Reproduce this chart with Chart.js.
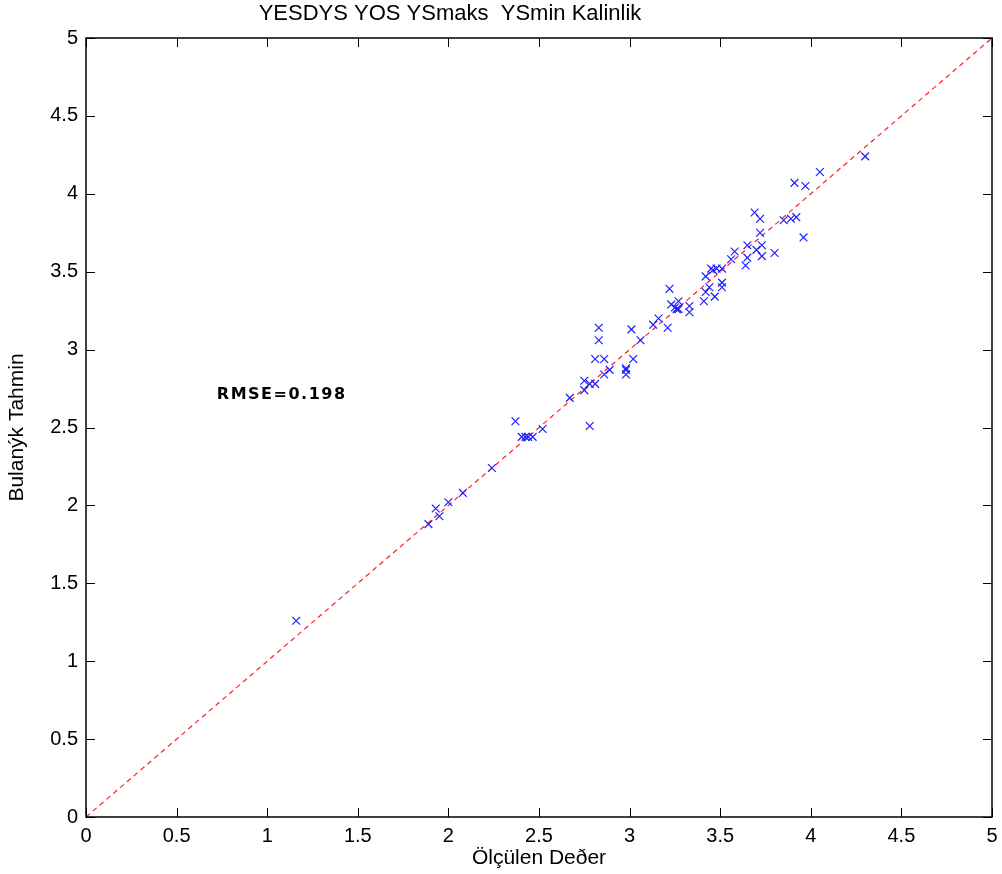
<!DOCTYPE html>
<html>
<head>
<meta charset="utf-8">
<script src="https://cdn.jsdelivr.net/npm/chart.js@4/dist/chart.umd.min.js"></script>
<style>
  html, body { margin: 0; padding: 0; background: #fff; }
  #wrap { width: 1002px; height: 874px; }
</style>
</head>
<body>
<div id="wrap"><canvas id="fit"></canvas></div>
<script>
// measured vs fuzzy predicted thickness
const measured = [
  1.16, 1.89, 1.93, 1.95, 2.00, 2.08, 2.24, 2.37, 2.405, 2.425, 2.44, 2.465,
  2.52, 2.78, 2.67, 2.75, 2.75, 2.78, 2.81, 2.86, 2.89, 2.81, 2.86, 2.83,
  2.83, 2.98, 2.98, 2.98, 3.02, 3.01, 3.06, 3.13, 3.16, 3.21, 3.22, 3.23,
  3.25, 3.26, 3.27, 3.27, 3.33, 3.33, 3.41, 3.42, 3.44, 3.47, 3.42, 3.45,
  3.46, 3.48, 3.51, 3.51, 3.51, 3.56, 3.58, 3.64, 3.65, 3.65, 3.70, 3.73,
  3.73, 3.72, 3.80, 3.69, 3.72, 3.85, 3.89, 3.92, 3.96, 3.91, 3.97, 4.05,
  4.30
];
const predicted = [
  1.26, 1.88, 1.98, 1.93, 2.02, 2.08, 2.24, 2.54, 2.44, 2.44, 2.44, 2.44,
  2.49, 2.51, 2.69, 2.80, 2.74, 2.78, 2.78, 2.84, 2.87, 2.94, 2.94, 3.06,
  3.14, 2.88, 2.87, 2.84, 2.94, 3.13, 3.06, 3.16, 3.20, 3.14, 3.39, 3.29,
  3.27, 3.26, 3.31, 3.26, 3.28, 3.24, 3.31, 3.37, 3.40, 3.34, 3.47, 3.52,
  3.51, 3.52, 3.52, 3.43, 3.40, 3.58, 3.63, 3.54, 3.59, 3.67, 3.64, 3.60,
  3.67, 3.75, 3.62, 3.88, 3.84, 3.83, 3.84, 3.85, 3.72, 4.07, 4.05, 4.14,
  4.24
];
const identityLine = [0, 5];
const axisTicks = [0, 0.5, 1, 1.5, 2, 2.5, 3, 3.5, 4, 4.5, 5];
const rmseText = 'RMSE=0.198';
const rmseAt = [1.08, 2.71];

const tickFont = { family: '"Liberation Sans", Arial, sans-serif', size: 20 };
const titleFont = { family: '"Liberation Sans", Arial, sans-serif', size: 21 };

// box around the axes with inward tick marks on every side, plus annotations
const frame = {
  id: 'frame',
  afterDraw(chart) {
    const { ctx, chartArea: a, scales: { x, y } } = chart;
    ctx.save();
    ctx.strokeStyle = '#000';
    ctx.lineWidth = 1.5;
    ctx.strokeRect(a.left, a.top, a.right - a.left, a.bottom - a.top);
    ctx.lineWidth = 1;
    ctx.beginPath();
    axisTicks.forEach(v => {
      const px = Math.round(x.getPixelForValue(v)) + 0.5;
      ctx.moveTo(px, a.bottom); ctx.lineTo(px, a.bottom - 9);
      ctx.moveTo(px, a.top); ctx.lineTo(px, a.top + 9);
      const py = Math.round(y.getPixelForValue(v)) + 0.5;
      ctx.moveTo(a.left, py); ctx.lineTo(a.left + 9, py);
      ctx.moveTo(a.right, py); ctx.lineTo(a.right - 9, py);
    });
    ctx.stroke();

    ctx.fillStyle = '#000';
    ctx.font = '22px "Liberation Sans", Arial, sans-serif';
    ctx.textAlign = 'center';
    ctx.textBaseline = 'middle';
    ctx.fillText('YESDYS YOS YSmaks  YSmin Kalinlik', 450, 14);

    ctx.font = 'bold 16px "DejaVu Sans", Verdana, sans-serif';
    ctx.letterSpacing = '1.5px';
    ctx.fillText(rmseText, x.getPixelForValue(rmseAt[0]), y.getPixelForValue(rmseAt[1]));
    ctx.restore();
  }
};

new Chart(document.getElementById('fit'), {
  type: 'scatter',
  data: {
    datasets: [
      {
        label: 'Tahmin',
        data: measured.map((m, i) => ({ x: m, y: predicted[i] })),
        pointStyle: 'crossRot',
        pointRadius: 5.5,
        pointHoverRadius: 5.5,
        borderColor: '#1f1fff',
        backgroundColor: '#1f1fff',
        pointBorderWidth: 1.2
      },
      {
        type: 'line',
        label: 'y = x',
        data: identityLine.map(v => ({ x: v, y: v })),
        borderColor: '#ff2020',
        borderWidth: 1.2,
        borderDash: [5, 4],
        pointRadius: 0,
        fill: false
      }
    ]
  },
  options: {
    responsive: true,
    maintainAspectRatio: false,
    animation: false,
    layout: { padding: { top: 38, right: 10, left: 0, bottom: 0 } },
    plugins: {
      legend: { display: false },
      tooltip: { enabled: false }
    },
    scales: {
      x: {
        type: 'linear',
        min: 0, max: 5,
        afterBuildTicks: s => { s.ticks = axisTicks.map(v => ({ value: v })); },
        afterFit: s => { s.height = 57; s.paddingLeft = 0; s.paddingRight = 0; },
        grid: { display: false, drawTicks: false },
        border: { display: false },
        ticks: { color: '#000', font: tickFont, padding: 7, maxRotation: 0, callback: v => String(v) },
        title: { display: true, text: 'Ölçülen Deðer', color: '#000', font: titleFont, padding: { top: 0, bottom: 3 } }
      },
      y: {
        type: 'linear',
        min: 0, max: 5,
        afterBuildTicks: s => { s.ticks = axisTicks.map(v => ({ value: v })); },
        afterFit: s => { s.width = 86; },
        grid: { display: false, drawTicks: false },
        border: { display: false },
        ticks: { color: '#000', font: tickFont, padding: 8, callback: v => String(v) },
        title: { display: true, text: 'Bulanýk Tahmin', color: '#000', font: titleFont, padding: { top: 5, bottom: 0 } }
      }
    }
  },
  plugins: [frame]
});
</script>
</body>
</html>
